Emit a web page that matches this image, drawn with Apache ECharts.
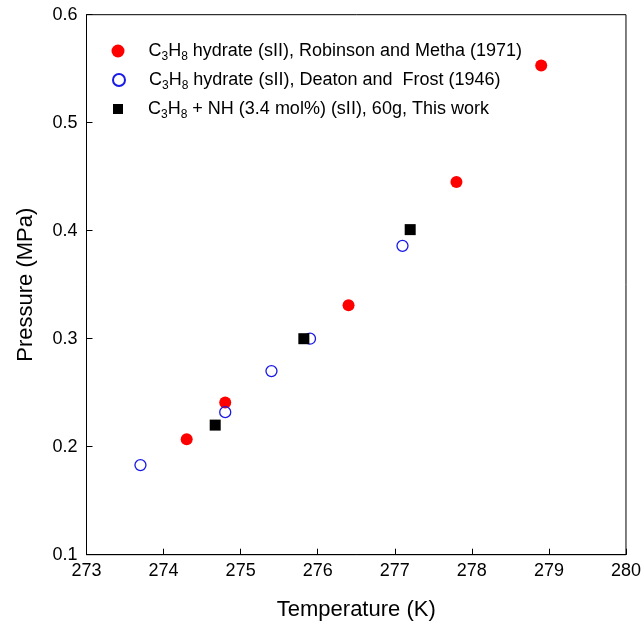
<!DOCTYPE html>
<html>
<head>
<meta charset="utf-8">
<title>C3H8 hydrate equilibrium</title>
<script src="https://cdn.jsdelivr.net/npm/echarts@6/dist/echarts.min.js"></script>
<style>
    html, body { margin: 0; padding: 0; background: #fff; }
    #chart { width: 644px; height: 629px; }
</style>
</head>
<body>
<div id="chart"></div>
<script>
    // axis ticks
    var xTicks = [273, 274, 275, 276, 277, 278, 279, 280];
    var yTicks = [0.1, 0.2, 0.3, 0.4, 0.5, 0.6];

    // series names
    var names = [
        'C3H8 hydrate (sII), Robinson and Metha (1971)',
        'C3H8 hydrate (sII), Deaton and  Frost (1946)',
        'C3H8 + NH (3.4 mol%) (sII), 60g, This work'
    ];

    // Robinson and Metha
    var robinsonT = [274.3, 274.8, 276.4, 277.8, 278.9];
    var robinsonP = [0.207, 0.241, 0.331, 0.445, 0.553];
    // Deaton and Frost
    var deatonT = [273.7, 274.8, 275.4, 275.9, 277.1];
    var deatonP = [0.183, 0.232, 0.270, 0.300, 0.386];
    // this work
    var workT = [274.67, 275.82, 277.2];
    var workP = [0.220, 0.300, 0.401];

    function pairs(xs, ys) {
        return xs.map(function (x, i) { return [x, ys[i]]; });
    }

    var font = '"Liberation Sans", Arial, sans-serif';

    // one legend per row so each icon keeps its own size
    var iconSize = [13, 12, 10];
    var rowTop = [42, 71, 100];
    function makeLegend(i) {
        var sz = iconSize[i];
        var left = 118 - sz / 2;
        var gap = Math.round(148 - (left + sz + 5));
        return {
            orient: 'vertical',
            left: left,
            top: rowTop[i],
            padding: 0,
            itemWidth: sz,
            itemHeight: sz,
            selectedMode: false,
            data: [names[i]],
            formatter: function (name) {
                var rest = name.replace(/^C3H8/, '');
                return '{g| }{n|C}{s|3}{n|H}{s|8}{n|' + rest + '}';
            },
            textStyle: {
                color: '#000',
                fontFamily: font,
                rich: {
                    g: { width: gap, fontSize: 18, lineHeight: 24 },
                    n: { fontSize: 18, lineHeight: 24, color: '#000', fontFamily: font },
                    s: { fontSize: 12, color: '#000', fontFamily: font, verticalAlign: 'bottom' }
                }
            }
        };
    }

    var chart = echarts.init(document.getElementById('chart'));
    var option = {
        animation: false,
        backgroundColor: '#fff',
        textStyle: { fontFamily: font },
        grid: {
            left: 86.5, right: 14.5, top: 14.7, bottom: 74.3,
            show: true, borderColor: '#000', borderWidth: 1, backgroundColor: 'transparent'
        },
        legend: [makeLegend(0), makeLegend(1), makeLegend(2)],
        xAxis: {
            type: 'value',
            min: xTicks[0],
            max: xTicks[xTicks.length - 1],
            interval: 1,
            name: 'Temperature (K)',
            nameLocation: 'middle',
            nameGap: 44,
            nameTextStyle: { fontSize: 22, color: '#000', fontFamily: font },
            axisLine: { lineStyle: { color: '#000', width: 1 } },
            axisTick: { inside: true, length: 6, lineStyle: { color: '#000' } },
            axisLabel: { fontSize: 18, color: '#000', margin: 7, fontFamily: font },
            splitLine: { show: false }
        },
        yAxis: {
            type: 'value',
            min: yTicks[0],
            max: yTicks[yTicks.length - 1],
            interval: 0.1,
            name: 'Pressure (MPa)',
            nameLocation: 'middle',
            nameGap: 50,
            nameTextStyle: { fontSize: 22, color: '#000', fontFamily: font },
            axisLine: { lineStyle: { color: '#000', width: 1 } },
            axisTick: { inside: true, length: 6, lineStyle: { color: '#000' } },
            axisLabel: {
                fontSize: 18, color: '#000', margin: 9, fontFamily: font,
                formatter: function (v) { return v.toFixed(1); }
            },
            splitLine: { show: false }
        },
        series: [
            {
                name: names[0],
                type: 'scatter',
                symbol: 'circle',
                symbolSize: 12,
                itemStyle: { color: '#ff0000', opacity: 1 },
                data: pairs(robinsonT, robinsonP)
            },
            {
                name: names[1],
                type: 'scatter',
                symbol: 'circle',
                symbolSize: 11,
                itemStyle: { color: 'rgba(255,255,255,0)', borderColor: '#1a1ae6', borderWidth: 1.3, opacity: 1 },
                data: pairs(deatonT, deatonP)
            },
            {
                name: names[2],
                type: 'scatter',
                symbol: 'rect',
                symbolSize: 11,
                itemStyle: { color: '#000', opacity: 1 },
                data: pairs(workT, workP)
            }
        ]
    };
    chart.setOption(option);
</script>
</body>
</html>
